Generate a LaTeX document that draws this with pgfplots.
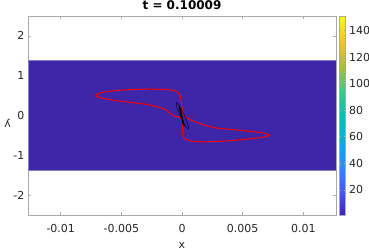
\documentclass[border=0pt]{standalone}
\usepackage{pgfplots}
\pgfplotsset{compat=1.18}
\usepackage{fontspec}
\setmainfont{DejaVu Sans}
\definecolor{bandcol}{RGB}{62,38,168}
\definecolor{labcol}{RGB}{38,38,38}
\definecolor{axcol}{RGB}{170,170,170}
\pgfplotsset{
  colormap={parula}{
    rgb255=(62,38,168) rgb255=(70,93,240) rgb255=(40,140,250) rgb255=(15,170,220)
    rgb255=(10,190,185) rgb255=(65,200,130) rgb255=(170,190,60) rgb255=(250,190,55)
    rgb255=(249,251,20)}
}
\begin{document}
\begin{tikzpicture}
\useasboundingbox (0,0) rectangle (369pt,251pt);
\begin{axis}[
  at={(28pt,36pt)}, anchor=south west,
  scale only axis, width=308pt, height=199pt,
  xmin=-0.0127, xmax=0.0127, ymin=-2.5, ymax=2.5,
  scaled x ticks=false, scaled y ticks=false,
  axis line style={draw=axcol, line width=0.5pt},
  tick style={draw=axcol, line width=0.5pt},
  major tick length=3pt,
  xtick={-0.01,-0.005,0,0.005,0.01},
  xticklabels={-0.01,-0.005,0,0.005,0.01},
  ytick={-2,-1,0,1,2},
  yticklabels={-2,-1,0,1,2},
  tick label style={font=\fontsize{11}{13}\selectfont, text=labcol},
  xticklabel style={yshift=-5.6pt},
  xlabel={x}, ylabel={y},
  label style={font=\fontsize{11}{13}\selectfont, text=labcol},
  xlabel style={at={(axis description cs:0.5,-0.1206)}, anchor=north},
  ylabel style={at={(axis description cs:-0.066,0.5)}, anchor=south, rotate=90},
  title={\textbf{t = 0.10009}},
  title style={font=\fontsize{12}{14}\selectfont, text=black, anchor=base},
  colormap name=parula,
  colorbar,
  point meta min=1, point meta max=151,
  colorbar style={
    at={(parent axis.north east)}, anchor=north west, xshift=-5.04pt,
    width=6pt, scale only axis,
    ytick={20,40,60,80,100,120,140},
    scaled y ticks=false,
    axis line style={draw=axcol, line width=0.4pt},
    major tick length=1.5pt,
    ytick style={draw=axcol},
    /pgf/number format/assume math mode=true,
    yticklabel style={font=\fontsize{11}{13}\selectfont, text=labcol},
  },
]
% uniform field band
\addplot[fill=bandcol, draw=bandcol!60!white, line width=0.4pt] coordinates {
  (-0.0127,-1.38) (0.0127,-1.38) (0.0127,1.38) (-0.0127,1.38)
} -- cycle;
% contour 0.1
\addplot[red, line width=1pt, smooth, tension=0.4] coordinates {
(-0.00709,0.496)
(-0.00676,0.570)
(-0.00538,0.628)
(-0.00401,0.653)
(-0.00264,0.661)
(-0.00126,0.653)
(-0.00058,0.620)
(-0.00022,0.537)
(-0.00008,0.388)
(0.00000,0.223)
(0.00005,0.058)
(0.00025,-0.025)
(0.00080,-0.124)
(0.00176,-0.231)
(0.00286,-0.314)
(0.00423,-0.355)
(0.00560,-0.397)
(0.00670,-0.438)
(0.00720,-0.496)
(0.00670,-0.545)
(0.00560,-0.587)
(0.00423,-0.628)
(0.00286,-0.653)
(0.00148,-0.661)
(0.00066,-0.636)
(0.00019,-0.579)
(0.00005,-0.438)
(0.00003,-0.273)
(0.00000,-0.107)
(-0.00022,-0.041)
(-0.00071,-0.008)
(-0.00113,0.099)
(-0.00154,0.174)
(-0.00264,0.264)
(-0.00401,0.322)
(-0.00538,0.372)
(-0.00676,0.446)
(-0.00709,0.496)
};
% thin inner contour (ellipse)
\addplot[draw=black!70!blue, line width=0.5pt, smooth, tension=0.5] coordinates {
(-0.000490,0.333)
(-0.000236,0.2494)
(0.000168,0.0186)
(0.000486,-0.2242)
(0.000530,-0.337)
(0.000276,-0.2534)
(-0.000128,-0.0226)
(-0.000446,0.2202)
(-0.000490,0.333)
};
\addplot[black, line width=1.8pt] coordinates {(-0.00022,0.24) (0.00016,-0.27)};
% contour labels
\begin{scope}[every node/.style={font=\fontsize{3.5}{4}\selectfont, text=red!70!black, inner sep=0pt}]
\node at (axis cs:-0.00698,0.512) {0.1};
\node at (axis cs:-0.00242,0.661) {0.1};
\node at (axis cs:-0.00302,0.289) {0.1};
\node at (axis cs:0.00093,-0.025) {0.1};
\node at (axis cs:0.00016,-0.479) {0.1};
\node at (axis cs:0.00533,-0.405) {0.1};
\node at (axis cs:0.00464,-0.628) {0.1};
\end{scope}
\end{axis}
\end{tikzpicture}
\end{document}
